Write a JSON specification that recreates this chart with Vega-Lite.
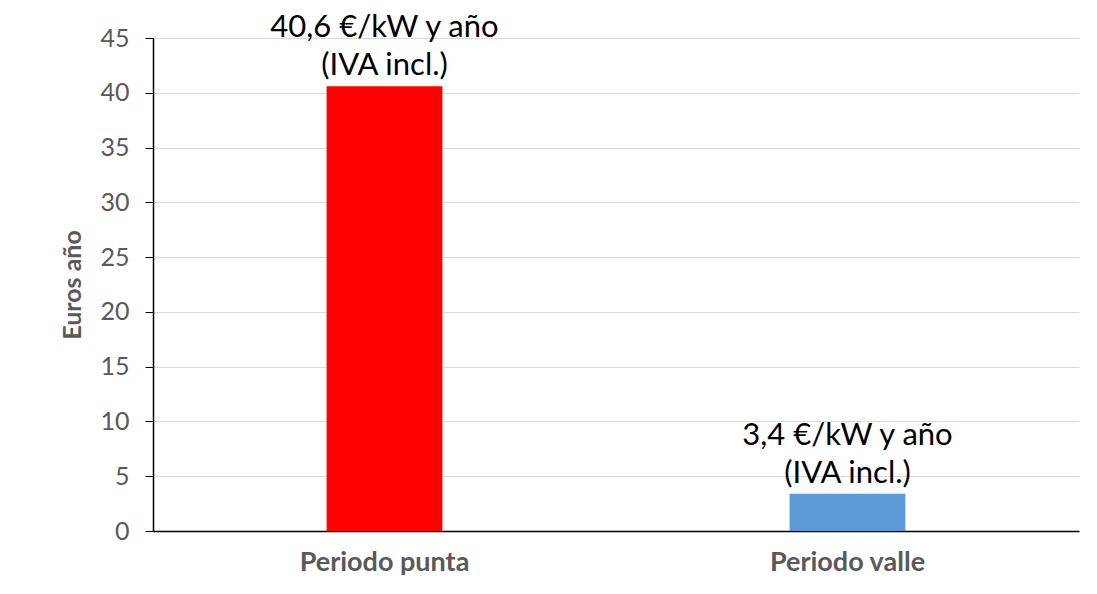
{
  "$schema": "https://vega.github.io/schema/vega-lite/v6.json",
  "width": 926,
  "height": 493,
  "autosize": {"type": "none"},
  "padding": {"left": 153, "top": 38, "right": 18, "bottom": 63},
  "background": "white",
  "config": {
    "font": "Lato",
    "view": {"stroke": null}
  },
  "data": {
    "values": [
      {"periodo": "Periodo punta", "valor": 40.6, "etiqueta": "40,6 €/kW y año\n(IVA incl.)", "color": "#FF0000"},
      {"periodo": "Periodo valle", "valor": 3.4, "etiqueta": "3,4 €/kW y año\n(IVA incl.)", "color": "#5B9BD5"}
    ]
  },
  "encoding": {
    "x": {
      "field": "periodo",
      "type": "nominal",
      "sort": null,
      "scale": {"paddingInner": 0.75, "paddingOuter": 0.375},
      "axis": {
        "title": null,
        "labelAngle": 0,
        "labelFont": "Lato",
        "labelFontSize": 27,
        "labelFontWeight": "bold",
        "labelColor": "#595959",
        "labelPadding": 18,
        "ticks": false,
        "domainColor": "#000000",
        "domainWidth": 1.5
      }
    }
  },
  "layer": [
    {
      "mark": {"type": "bar"},
      "encoding": {
        "y": {
          "field": "valor",
          "type": "quantitative",
          "scale": {"domain": [0, 45]},
          "axis": {
            "title": "Euros año",
            "titleFont": "Lato",
            "titleFontSize": 25,
            "titleFontWeight": "bold",
            "titleColor": "#595959",
            "titlePadding": 14,
            "values": [0, 5, 10, 15, 20, 25, 30, 35, 40, 45],
            "labelFont": "Lato",
            "labelFontSize": 25,
            "labelColor": "#595959",
            "labelPadding": 16,
            "tickSize": 8,
            "tickColor": "#000000",
            "domainColor": "#000000",
            "domainWidth": 1.5,
            "gridColor": "#D9D9D9",
            "gridWidth": 1.2
          }
        },
        "color": {"field": "color", "type": "nominal", "scale": null, "legend": null}
      }
    },
    {
      "mark": {
        "type": "text",
        "baseline": "bottom",
        "align": "center",
        "dy": -42,
        "fontSize": 31,
        "font": "Lato",
        "color": "#000000",
        "lineBreak": "\n",
        "lineHeight": 38
      },
      "encoding": {
        "y": {"field": "valor", "type": "quantitative"},
        "text": {"field": "etiqueta"}
      }
    }
  ]
}
